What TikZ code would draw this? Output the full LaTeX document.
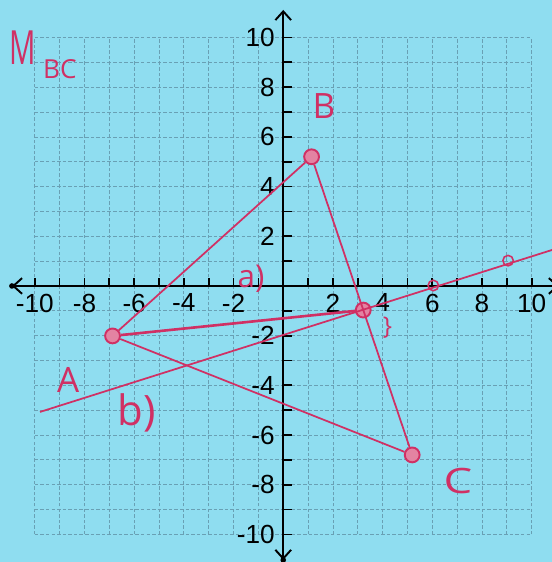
\documentclass[tikz,border=0pt]{standalone}
\usepackage{fontspec}
\setmainfont{Liberation Sans}
\newfontfamily\handfont{Open Sans}
\usetikzlibrary{arrows.meta}
\definecolor{paper}{RGB}{143,221,240}
\definecolor{gridc}{RGB}{105,160,180}
\definecolor{pen}{RGB}{208,48,100}
\tikzset{
  gridline/.style={gridc, line width=0.45pt, dash pattern=on 2pt off 1.2pt},
  axisline/.style={black, line width=1.1pt},
  tickmark/.style={black, line width=1pt},
  axlabel/.style={font=\fontsize{15}{15}\selectfont, inner sep=0pt},
  penline/.style={pen, line width=1pt},
  bigdot/.style={circle, draw=pen, fill=pen!60!white, line width=1.1pt, minimum size=8.5pt, inner sep=0pt},
  smalldot/.style={circle, draw=pen, line width=0.9pt, minimum size=6pt, inner sep=0pt},
  hand/.style={pen, font=\handfont\fontsize{20}{20}\selectfont, inner sep=0pt},
}
\begin{document}
\begin{tikzpicture}[x=0.5cm, y=0.5cm]
\useasboundingbox[fill=paper] (-11.40,-11.11) rectangle (10.81,11.51);
\clip (-11.40,-11.11) rectangle (10.81,11.51);
% grid
\foreach \i in {-10,...,10} {
  \draw[gridline] (\i,-10) -- (\i,10);
  \draw[gridline] (-10,\i) -- (10,\i);
}
% axes
\coordinate (xl) at (-10.92,0);
\coordinate (xr) at (11.1,0);
\coordinate (yt) at (0,11.11);
\coordinate (yb) at (0,-11.03);
\draw[axisline, {Straight Barb[length=5pt,width=9pt]}-{Straight Barb[length=5pt,width=9pt]}] (xl) -- (xr);
\draw[axisline, {Straight Barb[length=5pt,width=9pt]}-{Straight Barb[length=5pt,width=9pt]}] (yb) -- (yt);
\fill (xl) circle (1.6pt);
\fill (yb) circle (1.6pt);
% ticks
\foreach \i in {-10,...,-1,1,2,...,10} {
  \draw[tickmark] (\i,0) -- (\i,0.33);
  \draw[tickmark] (0,\i) -- (0.36,\i);
}
% tick labels
\foreach \i in {-10,-8,-6,-4,-2,2,4,6,8,10} {
  \node[axlabel, anchor=north] (xlab\i) at (\i,-0.3) {\i};
  \node[axlabel, anchor=east] (ylab\i) at (-0.33,\i) {\i};
}
% points
\node[bigdot] (A) at (-6.87,-2.01) {};
\node[bigdot] (B) at (1.14,5.20) {};
\node[bigdot] (C) at (5.19,-6.80) {};
\node[bigdot] (M) at (3.22,-0.97) {};
\node[smalldot] (P1) at (6.04,0.02) {};
\node[smalldot] (P2) at (9.05,1.02) {};
\coordinate (bl) at (-9.79,-5.07);
\coordinate (br) at (11.2,1.57);
% lines
\draw[penline] (A) -- (B);
\draw[penline] (B) -- (C);
\draw[penline] (C) -- (A);
\draw[penline, line width=1.5pt] (A) -- (M);
\draw[penline] (bl) -- (br);
% handwritten labels
\node[hand, font=\handfont\fontsize{27}{27}\selectfont, xscale=0.62] (Mlab) at (-10.5,9.6) {M};
\node[hand, font=\handfont\fontsize{15}{15}\selectfont] (BClab) at (-8.99,8.73) {BC};
\node[hand] (Blab) at (1.64,7.24) {B};
\node[hand] (Alab) at (-8.66,-3.78) {A};
\node[hand, xscale=1.3] (Clab) at (7.03,-7.85) {C};
\node[hand, font=\handfont\fontsize{18}{18}\selectfont] (alab) at (-1.30,0.30) {a)};
\node[hand, font=\handfont\fontsize{24}{24}\selectfont] (blab) at (-5.89,-5.11) {b)};
\node[hand, font=\handfont\fontsize{14}{14}\selectfont] (brace) at (4.2,-1.68) {\}};
\end{tikzpicture}
\end{document}
